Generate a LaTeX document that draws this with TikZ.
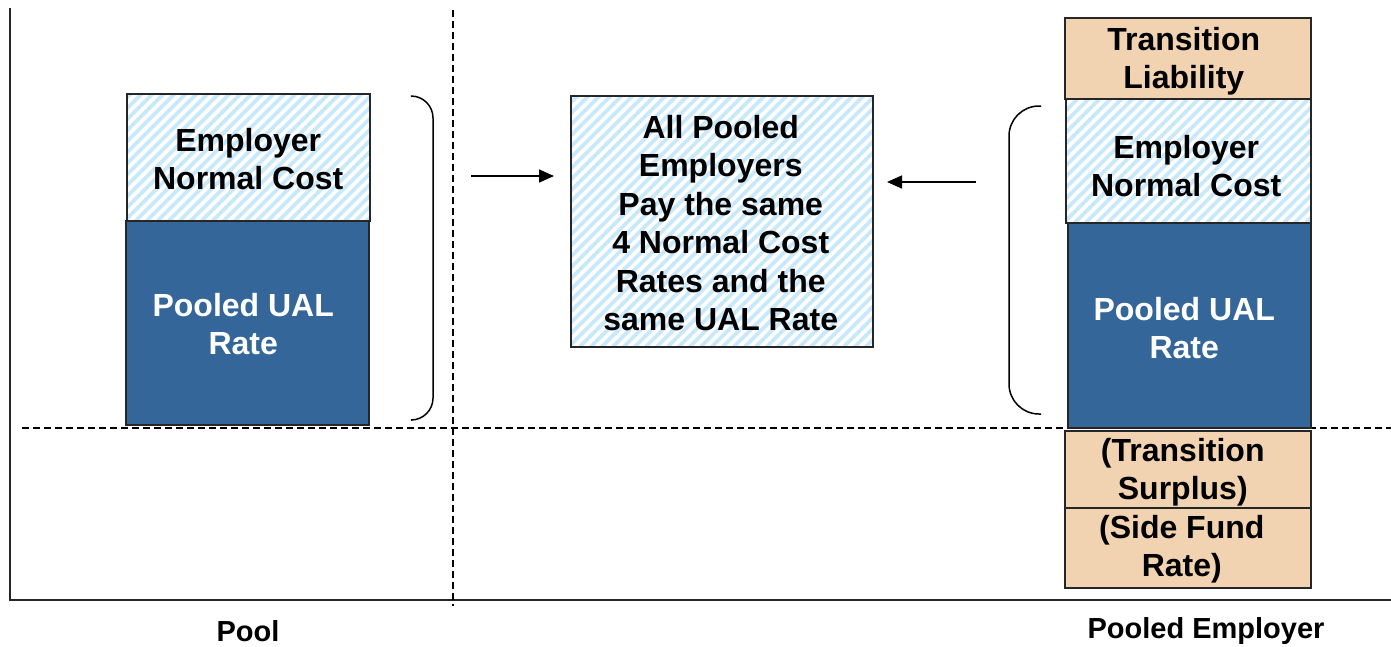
\documentclass[tikz,border=0pt]{standalone}
\usepackage{fontspec}
\setmainfont{Liberation Sans}
\usetikzlibrary{arrows.meta}
\definecolor{ualblue}{RGB}{52,102,153}
\definecolor{tan}{RGB}{241,211,178}
\definecolor{hatchblue}{RGB}{200,232,252}
\tikzset{
  box/.style={draw=black!85, line width=1.5pt, inner sep=0pt, anchor=north west, align=center,
    font=\fontsize{32}{38}\selectfont\bfseries},
  hatched/.style={box, fill=white, path picture={
      \foreach \i in {-420,-409,...,320}
        \draw[hatchblue, line width=3.8pt]
          ([xshift=\i pt]path picture bounding box.south west) -- ++(400pt,400pt);}},
  ual/.style={box, fill=ualblue, text=white},
  tanbox/.style={box, fill=tan},
  lbl/.style={font=\fontsize{32}{38}\selectfont\bfseries, align=center},
  axis/.style={line width=1.8pt, black!85},
  guide/.style={line width=1.3pt, dash pattern=on 7pt off 4pt},
  bracket/.style={line width=1.5pt},
  flow/.style={line width=1.5pt, -{Triangle[length=15pt,width=13pt]}},
  caption/.style={font=\fontsize{29}{32}\selectfont\bfseries}
}
\begin{document}
\begin{tikzpicture}[x=1pt,y=-1pt]
\useasboundingbox (0,0) rectangle (1391,646);
% axes
\coordinate (axtop) at (10,8);
\coordinate (axorig) at (10,600);
\coordinate (axright) at (1391,600);
\draw[axis] (axtop) -- (axorig) -- (axright);
% guides
\coordinate (vtop) at (453,10);
\coordinate (vbot) at (453,606);
\draw[guide] (vtop) -- (vbot);
\coordinate (hl) at (22,428);
\coordinate (hr) at (1391,428);
\draw[guide] (hl) -- (hr);
% left stack
\node[hatched, minimum width=243pt, minimum height=127pt] (lnc) at (126,93) {};
\node[lbl] (lnct) at ([yshift=-66pt]lnc.north) {Employer\\Normal Cost};
\node[ual, minimum width=243pt, minimum height=204pt] (lual) at (125,220) {};
\node[lbl, text=white] (lualt) at ([xshift=-4pt,yshift=-104pt]lual.north) {Pooled UAL\\Rate};
% right bracket of pool
\coordinate (b1a) at (412,96);
\coordinate (b1b) at (433,96);
\coordinate (b1c) at (433,420);
\coordinate (b1d) at (412,420);
\draw[bracket, rounded corners=22pt] (b1a) -- (b1b) -- (b1c) -- (b1d);
% center box
\node[hatched, minimum width=302pt, minimum height=251pt] (cbox) at (570,95) {};
\node[lbl, font=\fontsize{32}{38.4}\selectfont\bfseries] (cboxt) at ([xshift=-1pt,yshift=-128pt]cbox.north)
  {All Pooled\\Employers\\Pay the same\\4 Normal Cost\\Rates and the\\same UAL Rate};
% arrows
\coordinate (a1s) at (471,176);
\coordinate (a1e) at (554,176);
\draw[flow] (a1s) -- (a1e);
\coordinate (a2s) at (976,182);
\coordinate (a2e) at (887,182);
\draw[flow] (a2s) -- (a2e);
% right stack
\node[tanbox, minimum width=246pt, minimum height=81pt] (tl) at (1064,17) {};
\node[lbl] (tlt) at ([xshift=-4pt,yshift=-44pt]tl.north) {Transition\\Liability};
\node[hatched, minimum width=245pt, minimum height=124pt] (rnc) at (1065,98) {};
\node[lbl] (rnct) at ([xshift=-2pt,yshift=-68pt]rnc.north) {Employer\\Normal Cost};
\node[ual, minimum width=243pt, minimum height=205pt] (rual) at (1067,222) {};
\node[lbl, text=white] (rualt) at ([xshift=-5pt,yshift=-106pt]rual.north) {Pooled UAL\\Rate};
\node[tanbox, minimum width=246pt, minimum height=77pt] (ts) at (1064,430) {};
\node[lbl] (tst) at ([xshift=-5pt,yshift=-42pt]ts.north) {(Transition\\Surplus)};
\node[tanbox, minimum width=246pt, minimum height=80pt] (sf) at (1064,507) {};
\node[lbl] (sft) at ([xshift=-6pt,yshift=-42pt]sf.north) {(Side Fund\\Rate)};
% left bracket of employer
\coordinate (b2a) at (1041,106);
\coordinate (b2b) at (1009,106);
\coordinate (b2c) at (1009,414);
\coordinate (b2d) at (1041,414);
\draw[bracket, rounded corners=30pt] (b2a) -- (b2b) -- (b2c) -- (b2d);
% captions
\node[caption] (pool) at (248,631) {Pool};
\node[caption] (pemp) at (1206,631) {Pooled Employer};
\end{tikzpicture}
\end{document}
